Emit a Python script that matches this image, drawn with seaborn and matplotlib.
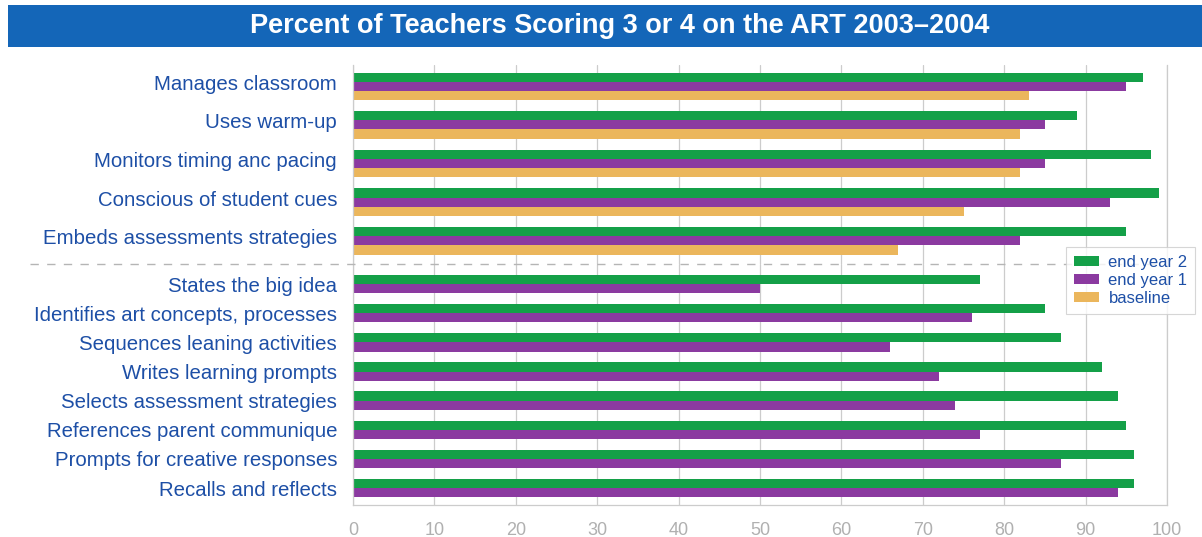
import matplotlib
matplotlib.use("Agg")
import matplotlib.pyplot as plt
import matplotlib.transforms as mtransforms
import seaborn as sns
import pandas as pd
import numpy as np
from matplotlib.patches import Rectangle
from matplotlib.lines import Line2D

# ---- data ----
top_categories = ["Manages classroom", "Uses warm-up", "Monitors timing anc pacing",
                  "Conscious of student cues", "Embeds assessments strategies"]
top_end_year2 = [97, 89, 98, 99, 95]
top_end_year1 = [95, 85, 85, 93, 82]
top_baseline = [83, 82, 82, 75, 67]

bottom_categories = ["States the big idea", "Identifies art concepts, processes",
                     "Sequences leaning activities", "Writes learning prompts",
                     "Selects assessment strategies", "References parent communique",
                     "Prompts for creative responses", "Recalls and reflects"]
bottom_end_year2 = [77, 85, 87, 92, 94, 95, 96, 96]
bottom_end_year1 = [50, 76, 66, 72, 74, 77, 87, 94]

series_names = ["end year 2", "end year 1", "baseline"]
x_ticks = [0, 10, 20, 30, 40, 50, 60, 70, 80, 90, 100]
title = "Percent of Teachers Scoring 3 or 4 on the ART 2003\u20132004"

# ---- long-form frames ----
top_df = pd.DataFrame({
    "category": top_categories * 3,
    "series": [series_names[0]] * 5 + [series_names[1]] * 5 + [series_names[2]] * 5,
    "value": top_end_year2 + top_end_year1 + top_baseline,
})
bottom_df = pd.DataFrame({
    "category": bottom_categories * 2,
    "series": [series_names[0]] * 8 + [series_names[1]] * 8,
    "value": bottom_end_year2 + bottom_end_year1,
})

palette = {"end year 2": "#14a048", "end year 1": "#8b3aa0", "baseline": "#ebb65c"}
label_blue = "#1d4fa6"
grid_gray = "#cccccc"
tick_gray = "#b0b0b0"

sns.set_theme(style="white")
plt.rcParams["font.family"] = ["Liberation Sans", "DejaVu Sans"]

W, H = 1202, 537
fig = plt.figure(figsize=(W / 100, H / 100), dpi=100)

def fy(px):  # pixel from top -> figure fraction
    return 1 - px / H

left, right = 353 / W, 1167 / W
top_y0, top_y1 = 65, 264
bot_y0, bot_y1 = 264, 505

ax_top = fig.add_axes([left, fy(top_y1), right - left, (top_y1 - top_y0) / H])
ax_bot = fig.add_axes([left, fy(bot_y1), right - left, (bot_y1 - bot_y0) / H])

sns.barplot(data=top_df, y="category", x="value", hue="series", hue_order=series_names,
            palette=palette, saturation=1, orient="h", width=0.71, ax=ax_top,
            linewidth=0, legend=True, order=top_categories)
sns.barplot(data=bottom_df, y="category", x="value", hue="series",
            hue_order=series_names[:2], palette=palette, saturation=1, orient="h",
            width=0.63, ax=ax_bot, linewidth=0, legend=False, order=bottom_categories)

ax_top.set_ylim(4.6, -0.55)
ax_bot.set_ylim(7.58, -0.69)

for ax in (ax_top, ax_bot):
    ax.set_xlim(0, 100)
    ax.set_xticks(x_ticks)
    ax.set_xlabel("")
    ax.set_ylabel("")
    ax.grid(axis="x", color=grid_gray, linewidth=0.9)
    ax.set_axisbelow(True)
    ax.tick_params(axis="y", length=0, pad=11.5, labelsize=14.7, labelcolor=label_blue)
    ax.spines["top"].set_visible(False)
    for s in ["left", "right", "bottom"]:
        ax.spines[s].set_color(grid_gray)
        ax.spines[s].set_linewidth(0.9)

# top-group labels sit slightly above the group centre
shift = mtransforms.ScaledTranslation(0, 4 / 100, fig.dpi_scale_trans)
for lab in ax_top.get_yticklabels():
    lab.set_transform(lab.get_transform() + shift)

ax_top.spines["bottom"].set_visible(False)
ax_top.tick_params(axis="x", length=0, labelbottom=False)
ax_bot.tick_params(axis="x", length=0, pad=12, labelsize=13, labelcolor=tick_gray)

# legend
handles, labels = ax_top.get_legend_handles_labels()
ax_top.get_legend().remove()
leg = fig.legend(handles, labels, loc="upper left",
                 bbox_to_anchor=(1066 / W, fy(247)), borderaxespad=0, frameon=True,
                 fontsize=12.0, handlelength=1.5, handleheight=0.55, handletextpad=0.6,
                 labelspacing=0.2, borderpad=0.45, fancybox=False)
leg.get_frame().set_edgecolor("#cccccc")
leg.get_frame().set_linewidth(0.8)
for t in leg.get_texts():
    t.set_color(label_blue)
leg.set_zorder(10)

# dashed separator
fig.add_artist(Line2D([30 / W, 1165 / W], [fy(264), fy(264)], color="#b5b5b5",
                      linewidth=1.0, linestyle=(0, (6, 6)), zorder=1))

# title banner
fig.add_artist(Rectangle((8 / W, fy(47)), (W - 8) / W, 42 / H, transform=fig.transFigure,
                         facecolor="#1466b8", edgecolor="none", zorder=0))
fig.text(620 / W, fy(26), title, ha="center", va="center", color="white",
         fontsize=19.5, fontweight="bold")

fig.savefig("out.png", dpi=100, facecolor="white")
